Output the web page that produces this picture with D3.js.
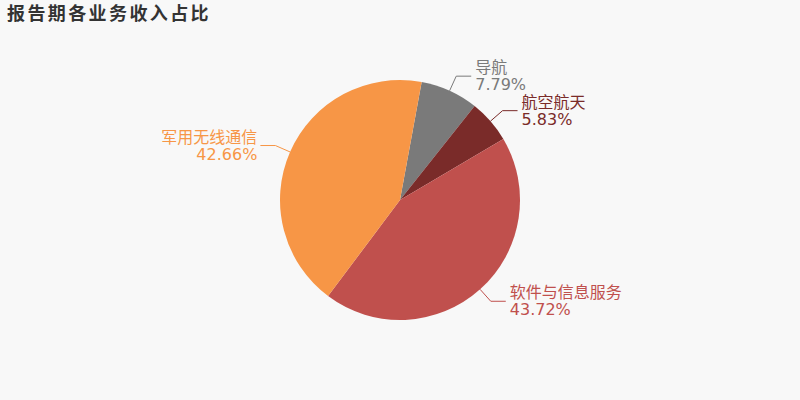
<!DOCTYPE html>
<html>
<head>
<meta charset="utf-8">
<script src="https://cdn.jsdelivr.net/npm/d3@7/dist/d3.min.js"></script>
<style>
  html, body { margin: 0; padding: 0; background: #f8f8f8; }
  text { font-family: "DejaVu Sans", "Noto Sans CJK SC", sans-serif; }
</style>
</head>
<body>
<div class="chart"></div>
<script>
var names = ['导航', '航空航天', '软件与信息服务', '军用无线通信'];
var shares = [7.79, 5.83, 43.72, 42.66];
var colors = ['#7a7a7a', '#7a2b29', '#c0504d', '#f79646'];

var width = 800, height = 400;
var cx = 400, cy = 200, radius = 120;
var startAngle = 10.4 * Math.PI / 180;

var svg = d3.select('.chart')
  .append('svg')
    .attr('width', width)
    .attr('height', height);

// title
svg.append('text')
  .attr('x', 7)
  .attr('y', 20)
  .attr('fill', '#333')
  .style('font-family', '"Noto Sans CJK SC", sans-serif')
  .style('font-size', '18px')
  .style('font-weight', 'bold')
  .style('letter-spacing', '2.4px')
  .text('报告期各业务收入占比');

var pie = d3.pie()
  .sort(null)
  .startAngle(startAngle)
  .endAngle(startAngle + 2 * Math.PI)
  .value(d => d);

var arcs = pie(shares);
var arc = d3.arc().innerRadius(0).outerRadius(radius);

var g = svg.append('g')
  .attr('transform', 'translate(' + cx + ',' + cy + ')');

g.selectAll('path')
  .data(arcs)
  .enter()
    .append('path')
    .attr('d', arc)
    .attr('fill', (d, i) => colors[i]);

// label lines: radial segment then a short horizontal one
var r2 = radius + 16, len2 = 15;
var label = g.selectAll('g.label')
  .data(arcs)
  .enter()
    .append('g')
    .attr('class', 'label');

function mid(d) { return (d.startAngle + d.endAngle) / 2; }
function pt(a, r) { return [r * Math.sin(a), -r * Math.cos(a)]; }
function side(d) { return Math.sin(mid(d)) >= 0 ? 1 : -1; }

label.append('polyline')
  .attr('fill', 'none')
  .attr('stroke', (d, i) => colors[i])
  .attr('stroke-width', 1)
  .attr('points', function (d) {
    var a = mid(d), p0 = pt(a, radius), p1 = pt(a, r2);
    return [p0, p1, [p1[0] + side(d) * len2, p1[1]]].join(' ');
  });

var txt = label.append('text')
  .attr('fill', (d, i) => colors[i])
  .style('font-size', '16px')
  .attr('text-anchor', d => side(d) > 0 ? 'start' : 'end')
  .attr('transform', function (d) {
    var p1 = pt(mid(d), r2);
    var gap = side(d) > 0 ? 4 : 3;
    return 'translate(' + (p1[0] + side(d) * (len2 + gap)) + ',' + p1[1] + ')';
  });

txt.append('tspan')
  .attr('x', 0)
  .attr('y', -3)
  .text((d, i) => names[i]);

txt.append('tspan')
  .attr('x', 0)
  .attr('y', 14)
  .text((d, i) => shares[i].toFixed(2) + '%');
</script>
</body>
</html>
